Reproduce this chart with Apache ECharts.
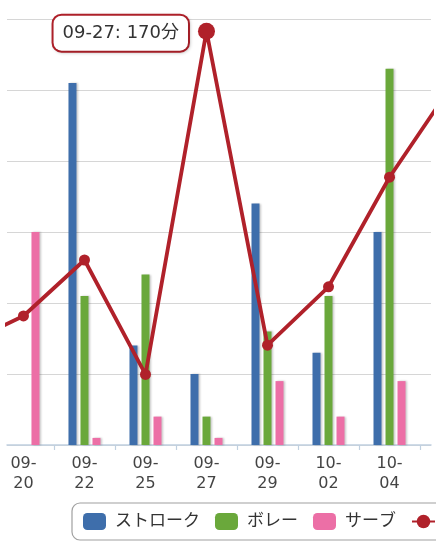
<!DOCTYPE html>
<html><head><meta charset="utf-8">
<script src="https://cdn.jsdelivr.net/npm/echarts@6/dist/echarts.min.js"></script>
<style>html,body{margin:0;padding:0;background:#fff}#c{width:436px;height:543px}</style>
</head><body><div id="c"></div>
<script>
const categories = ['09-20','09-22','09-25','09-27','09-29','10-02','10-04'];
const strokeValues = [0,51,14,10,34,13,30];
const volleyValues = [0,21,24,4,16,21,53];
const serveValues = [30,1,4,1,9,4,9];
// minutes; first and last values belong to the days just outside the visible window
const timeValues = [41,53,76,29,170,41,65,110,147];
const timeOffset = -1;
const seriesNames = ['ストローク','ボレー','サーブ','練習時間'];
const tipCategory = '09-27';
const unit = '分';

const FONT = "'DejaVu Sans', 'Noto Sans CJK JP', sans-serif";
const RED = '#b0212a';
const chart = echarts.init(document.getElementById('c'), null, {renderer:'canvas'});

const barShadow = {shadowColor:'rgba(0,0,0,0.22)', shadowBlur:2, shadowOffsetX:1.5, shadowOffsetY:0};
function barSeries(name, vals, color){
  return {
    type:'bar', name, xAxisIndex:0, yAxisIndex:0,
    data: vals.map((v,i)=>[i,v]),
    barWidth:8, barGap:'50%',
    itemStyle: Object.assign({color}, barShadow),
    emphasis:{disabled:true}
  };
}
const lineData = timeValues.map((v,k)=>{
  const i = k + timeOffset;
  const item = {value:[i,v]};
  if (categories[i] === tipCategory) {
    item.symbolSize = 17;
    item.label = {
      show:true, position:'left', distance:10, offset:[0,2],
      formatter: () => `${tipCategory}: ${v}${unit}`,
      fontFamily:FONT, fontSize:18, color:'#333',
      backgroundColor:'#fff', borderColor:RED, borderWidth:2, borderRadius:8,
      padding:[9,9,8,9],
      shadowColor:'rgba(0,0,0,0.15)', shadowBlur:3, shadowOffsetX:1, shadowOffsetY:1
    };
  }
  return item;
});

chart.setOption({
  animation:false,
  textStyle:{fontFamily:FONT},
  grid:{left:7, right:5, top:19, bottom:98, containLabel:false},
  xAxis:{
    type:'value', min:-0.27, max:6.68,
    splitLine:{show:false},
    axisLine:{show:true, lineStyle:{color:'#c0d0e0', width:1.5}},
    axisTick:{show:true, length:5, lineStyle:{color:'#c0d0e0', width:1.2}, customValues: categories.map((c,i)=>i+0.5)},
    axisLabel:{
      customValues: categories.map((c,i)=>i),
      formatter: v => { const c = categories[Math.round(v)]; return c ? c.replace('-', '-\n') : ''; },
      fontFamily:FONT, fontSize:16, color:'#444', lineHeight:20, margin:9
    }
  },
  yAxis:[
    {type:'value', min:0, max:60, interval:10,
     axisLabel:{show:false}, axisLine:{show:false}, axisTick:{show:false},
     splitLine:{lineStyle:{color:'#d6d6d6', width:1.2}}},
    {type:'value', min:0, max:175, show:false, splitLine:{show:false}}
  ],
  legend:{
    left:72, top:503, width:800,
    padding:[10,11], borderColor:'#a0a0a0', borderWidth:1.2, borderRadius:8,
    itemWidth:23, itemHeight:17, itemGap:15,
    textStyle:{fontFamily:FONT, fontSize:17, color:'#333', padding:[0,0,0,4]},
    data: seriesNames
  },
  series:[
    barSeries(seriesNames[0], strokeValues, '#3e6eab'),
    barSeries(seriesNames[1], volleyValues, '#6aa83b'),
    barSeries(seriesNames[2], serveValues, '#ec6fa6'),
    {
      type:'line', name:seriesNames[3], xAxisIndex:0, yAxisIndex:1,
      data: lineData, z:5, clip:true,
      symbol:'circle', symbolSize:11,
      itemStyle:{color:RED},
      lineStyle:{color:RED, width:3.8},
      emphasis:{disabled:true}
    }
  ]
});
</script></body></html>
